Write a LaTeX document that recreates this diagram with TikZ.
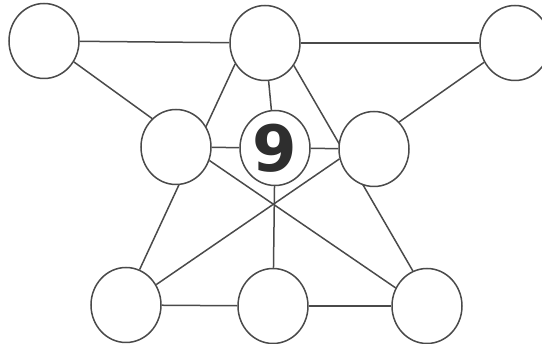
\documentclass[tikz,border=0pt]{standalone}
\usepackage{fontspec}
\newfontfamily\ninefont{DejaVu Sans}
\usetikzlibrary{shapes.geometric,backgrounds}
\definecolor{linegray}{HTML}{4A4A4A}
\definecolor{digitgray}{HTML}{2E2E2E}
\tikzset{
  spot/.style={ellipse, draw=linegray, line width=1.5pt, fill=white,
    minimum width=70pt, minimum height=75pt, inner sep=0pt},
  link/.style={draw=linegray, line width=1.5pt}
}
\begin{document}
\begin{tikzpicture}[x=1pt,y=-1pt]
\useasboundingbox (0,0) rectangle (542,344);
\node[spot] (tl) at (44,41) {};
\node[spot] (tm) at (265,43) {};
\node[spot] (tr) at (515,43) {};
\node[spot] (ml) at (176,147) {};
\node[spot, text=digitgray, font=\ninefont\bfseries\fontsize{64}{64}\selectfont] (c) at (275,148) {9};
\node[spot] (mr) at (374,149) {};
\node[spot] (bl) at (126,305) {};
\node[spot] (bm) at (273,306) {};
\node[spot] (br) at (427,306) {};
\begin{scope}[on background layer]
\path[link] (tl) -- (tm);
\path[link] (tm) -- (tr);
\path[link] (tl.325) -- (ml.130);
\path[link] (tr.212) -- (mr.47);
\path[link] (tm) -- (c);
\path[link] (tm.215) -- (bl.69);
\path[link] (tm.322) -- (br.112);
\path[link] (ml) -- (c);
\path[link] (c) -- (mr);
\path[link] (ml.338) -- (br.150);
\path[link] (mr.196) -- (bl.34);
\path[link] (c) -- (bm);
\path[link] (bl) -- (bm);
\path[link] (bm) -- (br);
\end{scope}
\end{tikzpicture}
\end{document}
